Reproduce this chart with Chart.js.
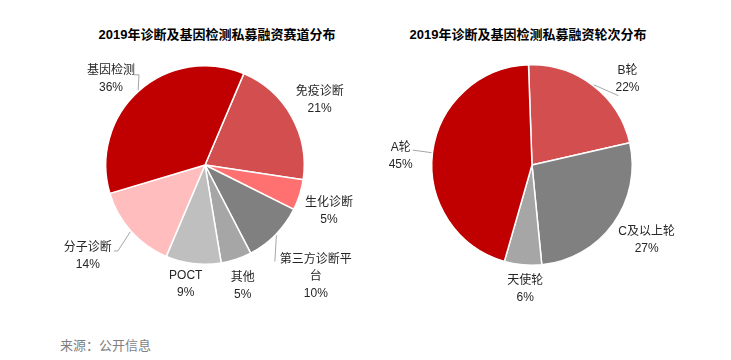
<!DOCTYPE html>
<html>
<head>
<meta charset="utf-8">
<script src="https://cdn.jsdelivr.net/npm/chart.js@4.4.1/dist/chart.umd.min.js"></script>
<style>
  body { margin: 0; background: #fff; width: 731px; height: 360px; position: relative; overflow: hidden;
         font-family: "Liberation Sans", "Noto Sans CJK SC", sans-serif; }
  .ttl { position: absolute; top: 24px; width: 300px; text-align: center; font-size: 13px; font-weight: bold; color: #000; }
  .box { position: absolute; top: 0; height: 320px; }
  #src { position: absolute; left: 60px; top: 335px; font-size: 13px; color: #7f7f7f; }
</style>
</head>
<body>
<div class="ttl" style="left:67px">2019年诊断及基因检测私募融资赛道分布</div>
<div class="ttl" style="left:378px">2019年诊断及基因检测私募融资轮次分布</div>
<div class="box" style="left:0;width:366px"><canvas id="pie-track"></canvas></div>
<div class="box" style="left:366px;width:365px"><canvas id="pie-round"></canvas></div>
<div id="src">来源：公开信息</div>
<script>
// data
const trackLabels = ['免疫诊断', '生化诊断', '第三方诊断平台', '其他', 'POCT', '分子诊断', '基因检测'];
const trackShares = [21, 5, 10, 5, 9, 14, 36];
const roundLabels = ['B轮', 'C及以上轮', '天使轮', 'A轮'];
const roundShares = [22, 27, 6, 45];

const trackColors = ['#D34F4F', '#FF7171', '#808080', '#A6A6A6', '#BFBFBF', '#FFBDBD', '#C00000'];
const roundColors = ['#D34F4F', '#808080', '#A6A6A6', '#C00000'];

// label nudges from the 1.3r point, and leader lines (end rel. to label centre)
const trackNudge = [[2, -2], [1, 7], [19, 21], [-3, -1], [-4, -9], [-21, 5], [-8, 10]];
const trackLeader = [null, null, {dx: -41, dy: -15, hook: 0}, null, null, {dx: 26, dy: -5, hook: 4}, {dx: 23, dy: -4, hook: 5}];
const roundNudge = [[16, 17], [9, -1], [5, -6], [-2, 7]];
const roundLeader = [{dx: -9, dy: 17, hook: 0}, null, null, {dx: 12, dy: -6, hook: 0}];

function wrapText(ctx, text, maxW) {
    var lines = [], cur = '';
    for (const ch of text) {
        if (ctx.measureText(cur + ch).width > maxW && cur) { lines.push(cur); cur = ch; }
        else cur += ch;
    }
    lines.push(cur);
    return lines;
}

const outLabels = {
    id: 'outLabels',
    afterDraw(chart, args, opts) {
        const ctx = chart.ctx;
        const meta = chart.getDatasetMeta(0);
        const ds = chart.data.datasets[0];
        ctx.save();
        ctx.font = '12px "Liberation Sans", "Noto Sans CJK SC", sans-serif';
        ctx.textAlign = 'center';
        ctx.textBaseline = 'middle';
        meta.data.forEach((arc, i) => {
            const mid = (arc.startAngle + arc.endAngle) / 2;
            const r = arc.outerRadius;
            const cx = arc.x + Math.cos(mid) * r * 1.3 + opts.nudge[i][0];
            const cy = arc.y + Math.sin(mid) * r * 1.3 + opts.nudge[i][1];
            const lines = wrapText(ctx, chart.data.labels[i], 75);
            lines.push(ds.data[i] + '%');
            const lh = 17;
            const y0 = cy - (lines.length - 1) * lh / 2;
            ctx.fillStyle = '#262626';
            lines.forEach((t, k) => ctx.fillText(t, cx, y0 + k * lh));
            const ld = opts.leader[i];
            if (ld) {
                const ex = arc.x + Math.cos(mid) * (r + 1);
                const ey = arc.y + Math.sin(mid) * (r + 1);
                const tx = cx + ld.dx, ty = cy + ld.dy;
                ctx.strokeStyle = '#A6A6A6';
                ctx.lineWidth = 1;
                ctx.beginPath();
                ctx.moveTo(ex, ey);
                ctx.lineTo(tx + ld.hook, ty);
                ctx.lineTo(tx, ty);
                ctx.stroke();
            }
        });
        ctx.restore();
    }
};

function MakePie(id, labels, values, colors, rotation, padding, nudge, leader) {
    var ctx = document.getElementById(id).getContext('2d');
    return new Chart(ctx, {
        type: 'pie',
        data: {
            labels: labels,
            datasets: [{
                data: values,
                backgroundColor: colors,
                borderColor: '#ffffff',
                borderWidth: 1.5
            }]
        },
        options: {
            maintainAspectRatio: false,
            responsive: true,
            animation: false,
            rotation: rotation,
            layout: { padding: padding },
            plugins: {
                legend: { display: false },
                tooltip: { enabled: false },
                outLabels: { nudge: nudge, leader: leader }
            }
        },
        plugins: [outLabels]
    });
}

MakePie('pie-track', trackLabels, trackShares, trackColors, 23,
    {left: 105, right: 61, top: 65, bottom: 55}, trackNudge, trackLeader);
MakePie('pie-round', roundLabels, roundShares, roundColors, -2,
    {left: 65, right: 98, top: 64, bottom: 54}, roundNudge, roundLeader);
</script>
</body>
</html>
